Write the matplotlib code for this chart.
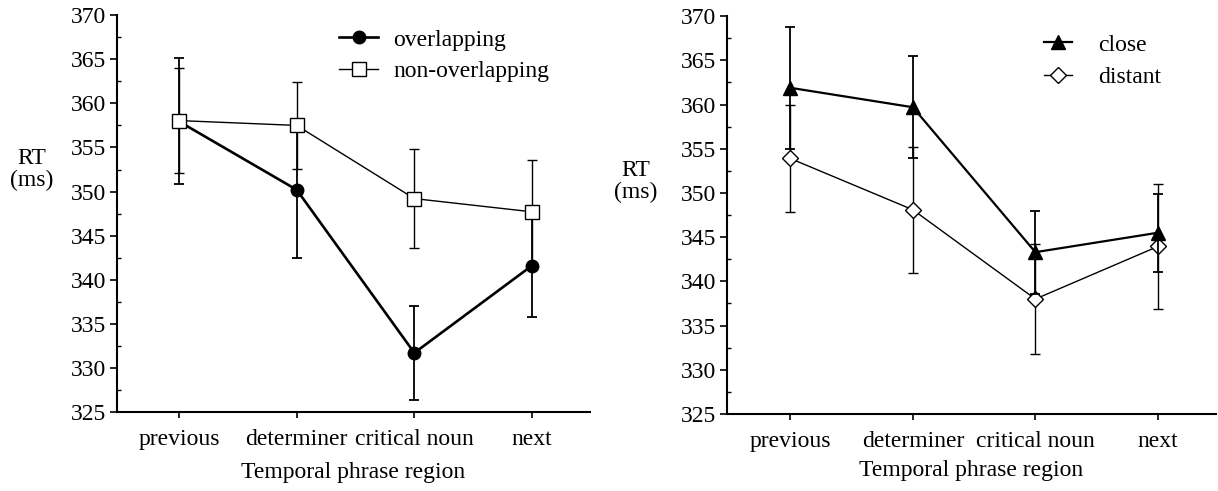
import numpy as np
import matplotlib.pyplot as plt
from matplotlib.ticker import MultipleLocator

plt.rcParams['font.family'] = ['Liberation Serif', 'DejaVu Serif']
plt.rcParams['font.size'] = 17

regions = ["previous", "determiner", "critical noun", "next"]

# left panel
overlapping = [357.95, 350.2, 331.7, 341.6]
overlapping_err = [7.15, 7.7, 5.3, 5.8]
non_overlapping = [358.05, 357.5, 349.2, 347.7]
non_overlapping_err = [5.95, 4.9, 5.6, 5.9]

# right panel
close = [361.9, 359.7, 343.3, 345.5]
close_err = [6.9, 5.8, 4.7, 4.4]
distant = [353.9, 348.1, 338.0, 343.95]
distant_err = [6.1, 7.1, 6.2, 7.05]

fig = plt.figure(figsize=(12.18, 4.91), dpi=100)
ax1 = fig.add_axes([0.0961, 0.161, 0.388, 0.808])
ax2 = fig.add_axes([0.597, 0.157, 0.401, 0.810])

x = np.arange(len(regions))


def style_axis(ax, xlim, ylab_pos, xlabelpad):
    ax.set_xlim(*xlim)
    ax.set_ylim(325, 370)
    ax.spines['top'].set_visible(False)
    ax.spines['right'].set_visible(False)
    ax.spines['left'].set_linewidth(1.5)
    ax.spines['bottom'].set_linewidth(1.5)
    ax.yaxis.set_major_locator(MultipleLocator(5))
    ax.yaxis.set_minor_locator(MultipleLocator(2.5))
    ax.tick_params(axis='y', which='major', direction='out', length=5, width=1.2, pad=3)
    ax.tick_params(axis='y', which='minor', direction='in', length=3, width=1)
    ax.set_xticks(x)
    ax.set_xticklabels(regions)
    ax.tick_params(axis='x', direction='out', length=4, width=1.2, pad=8)
    ax.set_xlabel("Temporal phrase region", labelpad=xlabelpad)
    ax.set_ylabel("RT\n(ms)", rotation=0, ha='center', va='center', linespacing=1.05)
    ax.yaxis.set_label_coords(*ylab_pos)


style_axis(ax1, (-0.527, 3.49), (-0.18, 0.61), 9)
style_axis(ax2, (-0.515, 3.47), (-0.188, 0.585), 6)

# left: overlapping vs non-overlapping
e_ov = ax1.errorbar(x, overlapping, yerr=overlapping_err, color='black', lw=1.9,
                    elinewidth=1.3, capsize=3.5, capthick=1.3, marker='o', ms=9,
                    mfc='black', mec='black', zorder=3)
e_non = ax1.errorbar(x, non_overlapping, yerr=non_overlapping_err, color='black', lw=1.0,
                     elinewidth=1.0, capsize=3.5, capthick=1.0, marker='s', ms=9.5,
                     mfc='white', mec='black', mew=1.0, zorder=4)

# right: close vs distant
e_dist = ax2.errorbar(x, distant, yerr=distant_err, color='black', lw=1.0,
                      elinewidth=1.0, capsize=3.5, capthick=1.0, marker='D', ms=8,
                      mfc='white', mec='black', mew=1.0, zorder=3)
e_close = ax2.errorbar(x, close, yerr=close_err, color='black', lw=1.6,
                       elinewidth=1.3, capsize=3.5, capthick=1.3, marker='^', ms=10.5,
                       mfc='black', mec='black', zorder=4)

# legends use only the data lines, no error bars
ax1.legend([e_ov.lines[0], e_non.lines[0]], ['overlapping', 'non-overlapping'],
           loc='upper left', bbox_to_anchor=(0.47, 0.965), frameon=False,
           borderpad=0, borderaxespad=0, handlelength=1.65, handletextpad=0.65,
           labelspacing=0.42)

ax2.legend([e_close.lines[0], e_dist.lines[0]], ['close', 'distant'],
           loc='upper left', bbox_to_anchor=(0.649, 0.955),
           frameon=False, borderpad=0, borderaxespad=0, handlelength=1.2,
           handletextpad=1.1, labelspacing=0.45)

fig.savefig("out.png", dpi=100)
